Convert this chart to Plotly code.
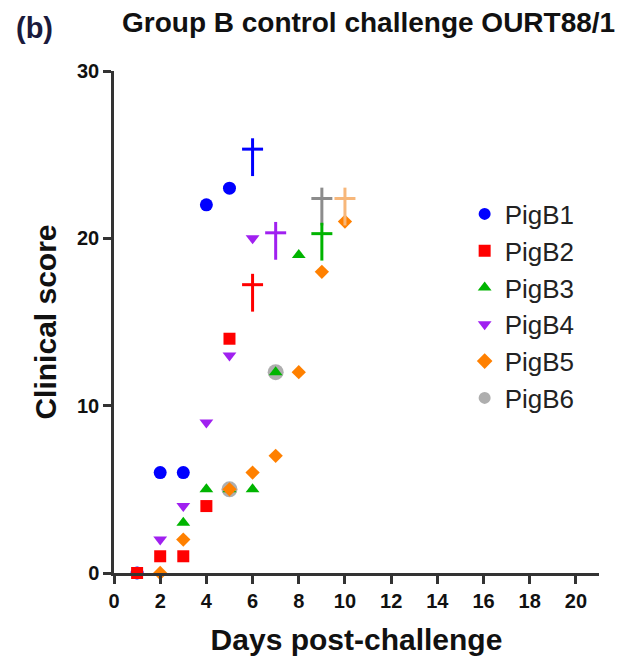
import plotly.graph_objects as go

# ---- data ----
pigs = ["PigB1", "PigB2", "PigB3", "PigB4", "PigB5", "PigB6"]
b1_days = [1, 2, 3, 4, 5]
b1_score = [0, 6, 6, 22, 23]
b2_days = [1, 2, 3, 4, 5]
b2_score = [0, 1, 1, 4, 14]
b3_days = [3, 4, 5, 6, 7, 8]
b3_score = [3, 5, 5, 5, 12, 19]
b4_days = [2, 3, 4, 5, 6]
b4_score = [2, 4, 9, 13, 20]
b5_days = [2, 3, 5, 6, 7, 8, 9, 10]
b5_score = [0, 2, 5, 6, 7, 12, 18, 21]
b6_days = [5, 7]
b6_score = [5, 12]

# death crosses (drawn order: B6 first so it sits underneath)
cross_pig = ["PigB6", "PigB1", "PigB2", "PigB3", "PigB4", "PigB5"]
cross_day = [9, 6, 6, 9, 7, 10]
cross_score = [21.9, 24.85, 16.75, 19.8, 19.85, 21.9]
cross_colors = ["#8c8c8c", "#0000ff", "#ff0000", "#00b400", "#a020f0", "#f7b77a"]

x_ticks = list(range(0, 21, 2))
y_ticks = [0, 10, 20, 30]

colors = {"PigB1": "#0000ff", "PigB2": "#ff0000", "PigB3": "#00b400",
          "PigB4": "#a020f0", "PigB5": "#ff8000", "PigB6": "#9a9a9a"}
symbols = {"PigB1": "circle", "PigB2": "square", "PigB3": "triangle-up",
           "PigB4": "triangle-down", "PigB5": "diamond", "PigB6": "circle"}
sizes = {"PigB1": 13, "PigB2": 12, "PigB3": 12, "PigB4": 12, "PigB5": 11, "PigB6": 16}

series = {"PigB1": (b1_days, b1_score), "PigB2": (b2_days, b2_score),
          "PigB3": (b3_days, b3_score), "PigB4": (b4_days, b4_score),
          "PigB5": (b5_days, b5_score), "PigB6": (b6_days, b6_score)}

FONT = "Arial, Liberation Sans, sans-serif"
fig = go.Figure()

draw_order = ["PigB6", "PigB1", "PigB2", "PigB3", "PigB4", "PigB5"]
for name in draw_order:
    xs, ys = series[name]
    fig.add_trace(go.Scatter(
        x=xs, y=ys, mode="markers", name=name,
        legendrank=pigs.index(name) + 1,
        opacity=0.8 if name == "PigB6" else 1,
        marker=dict(color=colors[name], symbol=symbols[name], size=sizes[name],
                    line=dict(width=0)),
        cliponaxis=False,
    ))

# crosses: vertical stem + horizontal bar
bar_offset = 0.48
fig.add_trace(go.Scatter(
    x=cross_day, y=cross_score, mode="markers", showlegend=False, hoverinfo="skip",
    marker=dict(symbol="line-ns", size=27, line=dict(color=cross_colors, width=3)),
    cliponaxis=False,
))
fig.add_trace(go.Scatter(
    x=cross_day, y=[s + bar_offset for s in cross_score], mode="markers",
    showlegend=False, hoverinfo="skip",
    marker=dict(symbol="line-ew", size=15, line=dict(color=cross_colors, width=3)),
    cliponaxis=False,
))

axis_common = dict(showgrid=False, zeroline=False, showline=True, linecolor="#333333",
                   linewidth=2.5, ticks="outside", ticklen=8, tickwidth=2.5,
                   tickcolor="#333333", automargin=False,
                   tickfont=dict(family=FONT, size=20, color="#111111", weight="bold"))

fig.update_layout(
    width=617, height=652,
    margin=dict(l=106, r=26, t=63, b=87),
    plot_bgcolor="white", paper_bgcolor="white",
    font=dict(family=FONT),
    xaxis=dict(range=[0, 21], tickvals=x_ticks,
               title=dict(text="<b>Days post-challenge</b>", standoff=19,
                          font=dict(family=FONT, size=30, color="#111111")),
               **axis_common),
    yaxis=dict(range=[0, 30], tickvals=y_ticks,
               title=dict(text="<b>Clinical score</b>", standoff=12,
                          font=dict(family=FONT, size=30, color="#111111")),
               **axis_common),
    legend=dict(x=0.723, y=0.762, xanchor="left", yanchor="top",
                font=dict(family=FONT, size=26, color="#222222"),
                tracegroupgap=0, itemsizing="constant", bgcolor="rgba(0,0,0,0)"),
    showlegend=True,
    annotations=[
        dict(text="<b>Group B control challenge OURT88/1</b>", xref="paper", yref="paper",
             x=0.524, y=1.096, xanchor="center", yanchor="middle", showarrow=False,
             font=dict(family=FONT, size=28, color="#111111")),
        dict(text="<b>(b)</b>", xref="paper", yref="paper",
             x=-0.163, y=1.086, xanchor="center", yanchor="middle", showarrow=False,
             font=dict(family=FONT, size=29, color="#1a1a3c")),
    ],
)

fig.write_html("out.html")
